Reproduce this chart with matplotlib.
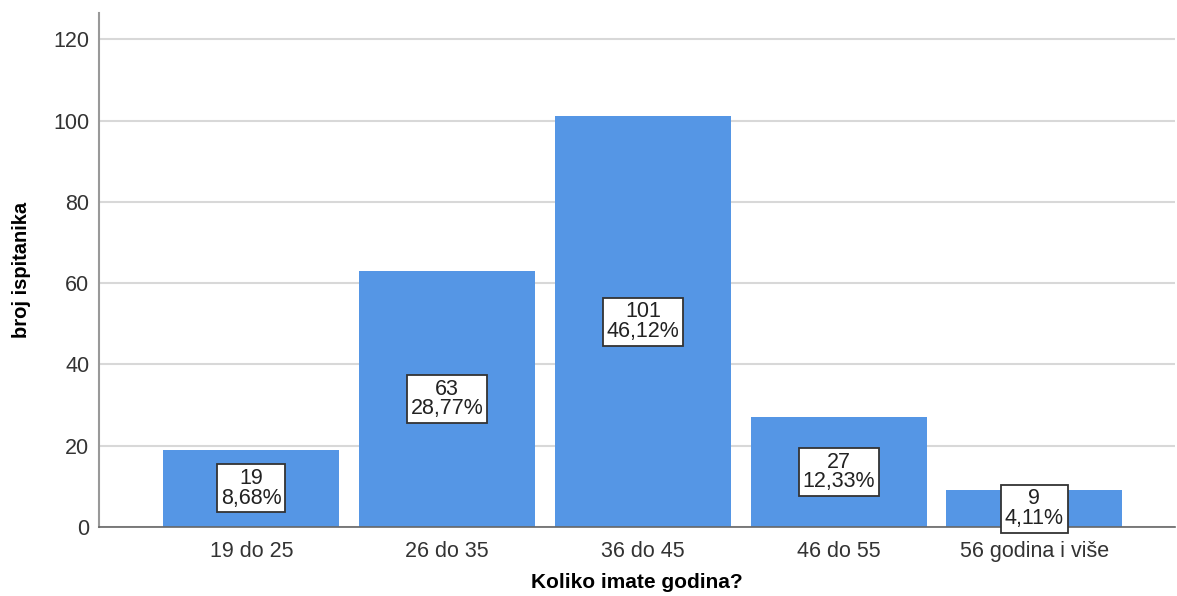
import matplotlib
matplotlib.use('Agg')
import matplotlib.pyplot as plt

categories = ["19 do 25", "26 do 35", "36 do 45", "46 do 55", "56 godina i više"]
counts = [19, 63, 101, 27, 9]
percents = ["8,68%", "28,77%", "46,12%", "12,33%", "4,11%"]

plt.rcParams['font.family'] = ['Liberation Sans', 'DejaVu Sans']

fig = plt.figure(figsize=(11.77, 5.96), dpi=100)
ax = fig.add_axes([0.0841, 0.1158, 0.9145, 0.862])

x = list(range(len(categories)))
ax.bar(x, counts, width=0.898, color="#5596e5", zorder=2)

for xi, c, p in zip(x, counts, percents):
    ax.text(xi, c / 2, "{}\n{}".format(c, p), ha="center", va="center",
            fontsize=15.5, color="#222222", linespacing=0.92, zorder=3,
            bbox=dict(boxstyle="square,pad=0.17", fc="white", ec="#333333", lw=1.3))

ax.set_xlim(-0.778, 4.72)
ax.set_ylim(0, 126.4)
ax.set_yticks([0, 20, 40, 60, 80, 100, 120])
ax.set_xticks(x)
ax.set_xticklabels(categories)
ax.yaxis.grid(True, color="#d8d8d8", lw=1.5, zorder=0)
ax.set_axisbelow(True)

for s in ["top", "right"]:
    ax.spines[s].set_visible(False)
ax.spines["left"].set_color("#999999")
ax.spines["left"].set_linewidth(1.5)
ax.spines["bottom"].set_color("#666666")
ax.spines["bottom"].set_linewidth(1.2)

ax.tick_params(axis="both", length=0, labelsize=15.5, labelcolor="#333333")
ax.tick_params(axis="x", pad=10)
ax.tick_params(axis="y", pad=7)

ax.set_xlabel("Koliko imate godina?", fontsize=15, fontweight="bold", labelpad=8)
ax.set_ylabel("broj ispitanika", fontsize=14.5, fontweight="bold", labelpad=16)

plt.savefig("out.png", dpi=100)
